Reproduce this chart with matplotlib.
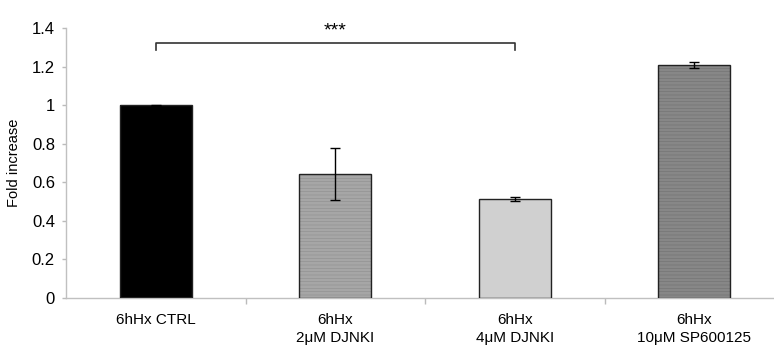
import numpy as np
import matplotlib.pyplot as plt

plt.rcParams['font.family'] = ['Liberation Sans', 'DejaVu Sans']
plt.rcParams['hatch.linewidth'] = 0.4

labels = ['6hHx CTRL', '6hHx\n2\u03bcM DJNKI', '6hHx\n4\u03bcM DJNKI', '6hHx\n10\u03bcM SP600125']
values = [1.0, 0.643, 0.515, 1.21]
errors = [0.003, 0.135, 0.01, 0.015]
colors = ['#000000', '#a6a6a6', '#d0d0d0', '#878787']
hatch_colors = ['#000000', '#8e8e8e', '#d0d0d0', '#707070']
hatches = ['', '-----', '', '-----']

fig = plt.figure(figsize=(7.74, 3.58), dpi=100)
ax = fig.add_axes([66 / 774, 1 - 298 / 358, 1 - 66 / 774, (298 - 28) / 358])

x = np.arange(len(values))
# fill + hatch first, then outline on top so hatch can have its own colour
for i in range(len(values)):
    ax.bar(x[i], values[i], width=0.4, color=colors[i], edgecolor=hatch_colors[i],
           hatch=hatches[i], linewidth=0, zorder=2)
ax.bar(x, values, width=0.4, fill=False, edgecolor='#222222', linewidth=1.0, zorder=3)
ax.errorbar(x, values, yerr=errors, fmt='none', ecolor='black', elinewidth=1,
            capsize=3.5, capthick=1, zorder=4)

# significance bracket between CTRL and 4uM DJNKI
y_br = 1.323
ax.plot([x[0], x[0], x[2], x[2]], [y_br - 0.035, y_br, y_br, y_br - 0.035],
        color='#333333', linewidth=1.2, zorder=4)
ax.text((x[0] + x[2]) / 2, y_br + 0.015, '***', ha='center', va='bottom', fontsize=14)

ax.set_ylim(0, 1.4)
ax.set_xlim(-0.5, 3.444)
ax.set_yticks(np.arange(0, 1.41, 0.2))
ax.set_yticklabels(['0', '0.2', '0.4', '0.6', '0.8', '1', '1.2', '1.4'])
ax.set_xticks(x)
ax.set_xticklabels(labels, va='top', linespacing=1.3)
ax.set_xticks([0.5, 1.5, 2.5], minor=True)
ax.tick_params(axis='x', which='major', length=0, pad=11, labelsize=11)
ax.tick_params(axis='x', which='minor', length=4, color='#bbbbbb', width=1)
ax.tick_params(axis='y', length=3, color='#bbbbbb', width=1, pad=5, labelsize=12)

ax.spines['top'].set_visible(False)
ax.spines['right'].set_visible(False)
ax.spines['left'].set_color('#c0c0c0')
ax.spines['bottom'].set_color('#c0c0c0')
ax.spines['left'].set_linewidth(1)
ax.spines['bottom'].set_linewidth(1)

ax.set_ylabel('Fold increase', fontsize=10.5, labelpad=8)

plt.savefig('out.png', dpi=100)
